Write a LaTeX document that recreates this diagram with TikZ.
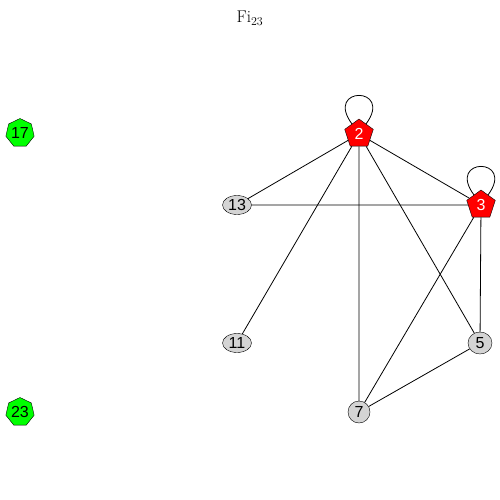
\documentclass[tikz,border=0pt]{standalone}
\usepackage{fontspec}
\setsansfont{Liberation Sans}
\usetikzlibrary{shapes.geometric}
\begin{document}
\begin{tikzpicture}[x=1pt,y=-1pt,
  lbl/.style={font=\sffamily\fontsize{16}{18}\selectfont, inner sep=0pt},
  redpent/.style={lbl, regular polygon, regular polygon sides=5, draw, fill=red, text=white, minimum size=30pt},
  greenhept/.style={lbl, regular polygon, regular polygon sides=7, draw, fill=green, minimum size=29pt},
  grayell/.style={lbl, ellipse, draw, fill=black!17, minimum width=29pt, minimum height=19pt},
  graycirc/.style={lbl, circle, draw, fill=black!17, minimum size=22pt},
  edge/.style={draw, line width=0.8pt}]
\useasboundingbox (0,0) rectangle (500,500);
\node at (250,18) {\fontsize{17}{19}\selectfont $\mathrm{Fi}_{23}$};
\node[redpent] (n2) at (359,134) {2};
\node[redpent] (n3) at (481,205) {3};
\node[grayell] (n13) at (237,205) {13};
\node[grayell] (n11) at (237,343) {11};
\node[grayell, minimum width=24pt, minimum height=22pt] (n5) at (480,343) {5};
\node[graycirc] (n7) at (359,412) {7};
\node[greenhept] (n17) at (20,133) {17};
\node[greenhept] (n23) at (20,412) {23};
\draw[edge] (n2) -- (n13);
\draw[edge] (n2) -- (n3);
\draw[edge] (n2) -- (n11);
\draw[edge] (n2) -- (n7);
\draw[edge] (n2) -- (n5);
\draw[edge] (n13) -- (n3);
\draw[edge] (n3) -- (n7);
\draw[edge] (n3) -- (n5);
\draw[edge] (n7) -- (n5);
\draw[edge] (n2.125) .. controls +(-28,-38) and +(28,-38) .. (n2.55);
\draw[edge] (n3.125) .. controls +(-28,-38) and +(28,-38) .. (n3.55);
\end{tikzpicture}
\end{document}
